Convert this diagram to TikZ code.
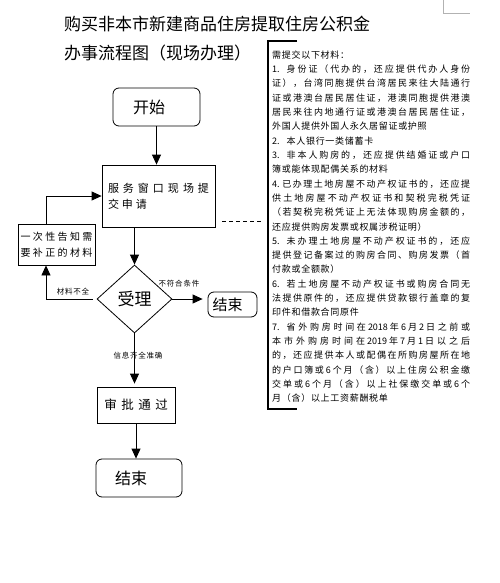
\documentclass[tikz,border=0pt]{standalone}
\usepackage{fontspec}
\newfontfamily\cjk{Noto Sans CJK SC}
\usetikzlibrary{arrows.meta,shapes.geometric}
\makeatletter
\newXeTeXintercharclass\cjkId
\newXeTeXintercharclass\cjkOp
\newXeTeXintercharclass\cjkCl
\count@="4E00
\loop
  \XeTeXcharclass\count@=\cjkId
  \advance\count@ by 1
\ifnum\count@<"A000 \repeat
\XeTeXcharclass"FF08=\cjkOp
\XeTeXcharclass"FF09=\cjkCl
\XeTeXcharclass"FF0C=\cjkCl
\XeTeXcharclass"FF1A=\cjkCl
\XeTeXcharclass"3001=\cjkCl
\makeatother
\XeTeXinterchartokenstate=1
\newdimen\mygap
\mygap=0pt
\def\cjkglue{\hskip\mygap plus 1fil\relax}
\XeTeXinterchartoks\cjkId\cjkId = {\cjkglue}
\XeTeXinterchartoks\cjkId\cjkOp = {\cjkglue}
\XeTeXinterchartoks\cjkId\cjkCl = {\cjkglue}
\XeTeXinterchartoks\cjkOp\cjkId = {\cjkglue}
\XeTeXinterchartoks\cjkOp\cjkOp = {\cjkglue}
\XeTeXinterchartoks\cjkCl\cjkId = {\cjkglue}
\XeTeXinterchartoks\cjkCl\cjkOp = {\cjkglue}
\XeTeXinterchartoks\cjkCl\cjkCl = {\cjkglue}
\newcommand\mlj[2]{\node[mtext] (m#1) at (272,{55+14.3*#1}) {\makebox[198pt][s]{#2}};}
\newcommand\mln[2]{\node[mtext] (m#1) at (272,{55+14.3*#1}) {#2};}
\newcommand\itm[1]{#1.\hspace{7pt}}
\begin{document}
\begin{tikzpicture}[x=1pt,y=-1pt,
  box/.style={draw, line width=0.8pt, inner sep=0pt},
  rbox/.style={box, rounded corners=6pt},
  arr/.style={line width=0.8pt, -{Triangle[length=10pt,width=9pt]}},
  lbl/.style={inner sep=0pt, font={\cjk\fontsize{7.5}{8}\selectfont\mygap=0.8pt}},
  mtext/.style={anchor=west, inner sep=0pt, font={\cjk\fontsize{9}{11}\selectfont\mygap=0.7pt}},
  ttl/.style={anchor=west, inner sep=0pt, font={\cjk\fontsize{17}{20}\selectfont}},
]
\useasboundingbox (0,0) rectangle (499,583);
\fill[white] (0,0) rectangle (499,583);

% page corner mark
\coordinate (c1) at (443,0);
\coordinate (c2) at (443,13);
\coordinate (c3) at (470,13);
\draw[gray!60, line width=0.6pt] (c1) -- (c2) -- (c3);

% title
\node[ttl] (t1) at (64,24) {购买非本市新建商品住房提取住房公积金};
\node[ttl] (t2) at (64,53) {办事流程图（现场办理）};

% flow nodes
\node[rbox, minimum width=87pt, minimum height=38pt, font={\cjk\fontsize{16}{18}\selectfont}] (start) at (156.5,107) {开始\kern15pt};
\node[box, minimum width=113pt, minimum height=62pt, text width=101pt, inner sep=6pt, align=left, font={\cjk\fontsize{11}{16}\selectfont\mygap=3pt}] (svc) at (158.5,196) {\makebox[101pt][s]{服务窗口现场提}\\\mbox{交申请}};
\node[box, minimum width=77pt, minimum height=41pt, align=center, font={\cjk\fontsize{10}{16}\selectfont\mygap=2.4pt}] (fb) at (56.5,244.5) {一次性告知需\\要补正的材料};
\node[diamond, draw, line width=0.8pt, inner sep=0pt, minimum width=75pt, minimum height=68pt, font={\cjk\fontsize{17}{19}\selectfont}] (dia) at (134.5,299) {受理};
\node[rbox, minimum width=49pt, minimum height=25pt, font={\cjk\fontsize{15}{17}\selectfont}] (end1) at (232.5,304.5) {结束\kern10pt};
\node[box, minimum width=78pt, minimum height=36pt, font={\cjk\fontsize{12.5}{14}\selectfont\mygap=4.5pt}] (appr) at (136,405) {审批通过};
\node[rbox, minimum width=86pt, minimum height=38pt, font={\cjk\fontsize{16}{18}\selectfont}] (end2) at (139,478) {结束\kern16pt};

% connectors
\draw[arr] (start.south) -- (start.south |- svc.north);
\draw[arr] (svc.south -| dia.north) -- (dia.north);
\draw[arr, shorten <=4pt] (dia.west) -| ([xshift=-10.5pt]fb.south);
\draw[arr] ([xshift=-10.5pt]fb.north) |- (svc.west);
\draw[arr, shorten >=5pt] (dia.east) -- (dia.east -| end1.west);
\draw[arr, shorten >=3pt] (dia.south) -- (dia.south |- appr.north);
\draw[arr] (appr.south) -- (appr.south |- end2.north);

% labels
\node[lbl] (l1) at (179,284) {不符合条件};
\node[lbl] (l2) at (73,292) {材料不全};
\node[lbl] (l3) at (138,356) {信息齐全准确};

% dashed link
\coordinate (d1) at (222,221);
\coordinate (d2) at (262,221);
\draw[line width=0.8pt, dash pattern=on 4pt off 3pt] (d1) -- (d2);

% bracket
\coordinate (b1) at (297,41);
\coordinate (b2) at (268,41);
\coordinate (b3) at (268,409);
\coordinate (b4) at (297,409);
\draw[line width=2.6pt] (b1) -- (b2) -- (b3) -- (b4);

% materials
\mln{0}{需提交以下材料：}
\mlj{1}{\itm{1}身份证（代办的，还应提供代办人身份}
\mlj{2}{证），台湾同胞提供台湾居民来往大陆通行}
\mlj{3}{证或港澳台居民居住证，港澳同胞提供港澳}
\mlj{4}{居民来往内地通行证或港澳台居民居住证，}
\mln{5}{外国人提供外国人永久居留证或护照}
\mln{6}{\itm{2}本人银行一类储蓄卡}
\mlj{7}{\itm{3}非本人购房的，还应提供结婚证或户口}
\mln{8}{簿或能体现配偶关系的材料}
\mlj{9}{4. 已办理土地房屋不动产权证书的，还应提}
\mlj{10}{供土地房屋不动产权证书和契税完税凭证}
\mlj{11}{（若契税完税凭证上无法体现购房金额的，}
\mln{12}{还应提供购房发票或权属涉税证明）}
\mlj{13}{\itm{5}未办理土地房屋不动产权证书的，还应}
\mlj{14}{提供登记备案过的购房合同、购房发票（首}
\mln{15}{付款或全额款）}
\mlj{16}{\itm{6}若土地房屋不动产权证书或购房合同无}
\mlj{17}{法提供原件的，还应提供贷款银行盖章的复}
\mln{18}{印件和借款合同原件}
\mlj{19}{\itm{7}省外购房时间在 2018 年 6 月 2 日之前或}
\mlj{20}{本市外购房时间在 2019 年 7 月 1 日以之后}
\mlj{21}{的，还应提供本人或配偶在所购房屋所在地}
\mlj{22}{的户口簿或 6 个月（含）以上住房公积金缴}
\mlj{23}{交单或 6 个月（含）以上社保缴交单或 6 个}
\mln{24}{月（含）以上工资薪酬税单}
\end{tikzpicture}
\end{document}
